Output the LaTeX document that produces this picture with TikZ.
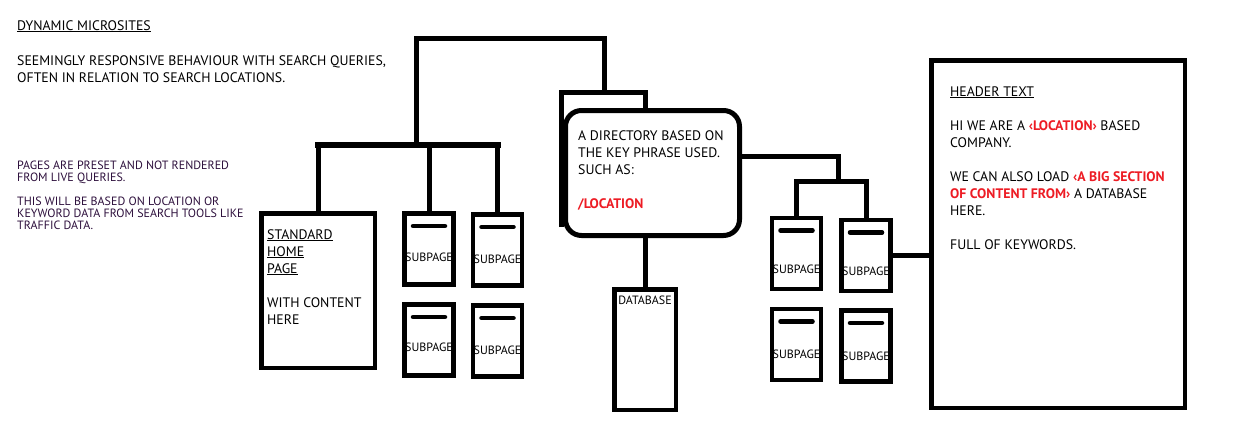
\documentclass[tikz,border=0pt]{standalone}
\usepackage{fontspec}
\setmainfont{PT Sans}
\usepackage{tikz}
\definecolor{inkred}{RGB}{237,28,36}
\definecolor{noteink}{RGB}{45,15,60}

\begin{document}
\begin{tikzpicture}[x=1pt,y=-1pt,
		page/.style={draw, line width=4.5pt, inner sep=0pt, minimum width=49pt, minimum height=71pt},
		folder/.style={draw, line width=5pt, rounded corners=16pt, inner sep=0pt, minimum width=174pt, minimum height=125pt},
		wire/.style={line width=5pt},
		bus/.style={line width=6.5pt, line cap=rect},
		slot/.style={line width=4.5pt, line cap=round},
		txt/.style={anchor=base west, align=left, inner sep=0pt, font=\fontsize{13.8}{17}\selectfont},
		small/.style={anchor=base west, align=left, inner sep=0pt, text=noteink, font=\fontsize{12}{12}\selectfont},
		tag/.style={anchor=base, inner sep=0pt, font=\fontsize{12}{12}\selectfont}]
		\useasboundingbox (0,0) rectangle (1234,434);
		\node[page, minimum width=113.5pt, minimum height=154.5pt] (home) at (318,290.5) {};
		\node[page] (s1) at (429,249) {};
		\node[page] (s2) at (497.5,250) {};
		\node[page] (s3) at (429,340) {};
		\node[page] (s4) at (497.5,341) {};
		\node[page] (s5) at (796.5,253.5) {};
		\node[page] (s6) at (866,255.5) {};
		\node[page] (s7) at (796.5,344.5) {};
		\node[page] (s8) at (866,346) {};
		\node[page, minimum width=61.5pt, minimum height=120.5pt] (db) at (645,349.5) {};
		\node[page, minimum width=253.5pt, minimum height=347.5pt] (site) at (1058,234) {};
		\node[folder] (dir) at (652.5,173) {};
		\coordinate (hub) at (416,145);
		\coordinate (tab) at (645,92);
		\coordinate (tabtop) at (604,92);
		\coordinate (rhub) at (838,181);
		\draw[wire] ([xshift=-2pt,yshift=-54pt]dir.west) |- (tab) -- (tab |- dir.north);
		\draw[wire] (hub) |- ([yshift=54pt]tabtop) -- (tabtop);
		\draw[bus] (home.north |- hub) -- (s2.north |- hub);
		\draw[wire] (home.north |- hub) -- (home.north);
		\draw[wire] (s1.north |- hub) -- (s1.north);
		\draw[wire] (s2.north |- hub) -- (s2.north);
		\draw[wire] (db.north |- dir.south) -- (db.north);
		\draw[wire] ([yshift=17pt]dir.east) -| (rhub);
		\draw[wire] (s5.north) |- (rhub) -| (s6.north);
		\draw[wire] (s6.east) -- (s6.east -| site.west);
		\draw[slot] ([xshift=-16pt,yshift=23pt]s1.center) -- ([xshift=16pt,yshift=23pt]s1.center);
		\draw[slot] ([xshift=-16pt,yshift=23pt]s2.center) -- ([xshift=16pt,yshift=23pt]s2.center);
		\draw[slot] ([xshift=-16pt,yshift=23pt]s3.center) -- ([xshift=16pt,yshift=23pt]s3.center);
		\draw[slot] ([xshift=-16pt,yshift=23pt]s4.center) -- ([xshift=16pt,yshift=23pt]s4.center);
		\draw[slot] ([xshift=-16pt,yshift=23pt]s5.center) -- ([xshift=16pt,yshift=23pt]s5.center);
		\draw[slot] ([xshift=-16pt,yshift=23pt]s6.center) -- ([xshift=16pt,yshift=23pt]s6.center);
		\draw[slot] ([xshift=-16pt,yshift=23pt]s7.center) -- ([xshift=16pt,yshift=23pt]s7.center);
		\draw[slot] ([xshift=-16pt,yshift=23pt]s8.center) -- ([xshift=16pt,yshift=23pt]s8.center);
		\node[tag] (s1t) at ([yshift=-12pt]s1.center) {SUBPAGE};
		\node[tag] (s2t) at ([yshift=-13pt]s2.center) {SUBPAGE};
		\node[tag] (s3t) at ([yshift=-11pt]s3.center) {SUBPAGE};
		\node[tag] (s4t) at ([yshift=-13pt]s4.center) {SUBPAGE};
		\node[tag] (s5t) at ([yshift=-19.5pt]s5.center) {SUBPAGE};
		\node[tag] (s6t) at ([yshift=-19.5pt]s6.center) {SUBPAGE};
		\node[tag] (s7t) at ([yshift=-13.5pt]s7.center) {SUBPAGE};
		\node[tag] (s8t) at ([yshift=-14pt]s8.center) {SUBPAGE};
		\node[tag] (dbt) at (645,304) {DATABASE};
		\node[txt] (title) at (17,30) {\underline{DYNAMIC MICROSITES}};
		\node[txt] (intro) at (17,82) {SEEMINGLY RESPONSIVE BEHAVIOUR WITH SEARCH QUERIES,\\ OFTEN IN RELATION TO SEARCH LOCATIONS.};
		\node[small] (note) at (17,229) {PAGES ARE PRESET AND NOT RENDERED\\ FROM LIVE QUERIES.\\[12pt] THIS WILL BE BASED ON LOCATION OR\\ KEYWORD DATA FROM SEARCH TOOLS LIKE\\ TRAFFIC DATA.};
		\node[txt] (homet) at (267,324) {\underline{STANDARD}\\ \underline{HOME}\\ \underline{PAGE}\\[17pt] WITH CONTENT\\ HERE};
		\node[txt] (dirt) at (578,208) {A DIRECTORY BASED ON\\ THE KEY PHRASE USED.\\ SUCH AS:\\[17pt] \textcolor{inkred}{\bfseries /LOCATION}};
		\node[txt] (sitet) at (950,249) {\underline{HEADER TEXT}\\[17pt] HI WE ARE A \textcolor{inkred}{\bfseries ‹LOCATION›} BASED\\ COMPANY.\\[17pt] WE CAN ALSO LOAD \textcolor{inkred}{\bfseries ‹A BIG SECTION}\\ \textcolor{inkred}{\bfseries OF CONTENT FROM›} A DATABASE\\ HERE.\\[17pt] FULL OF KEYWORDS.};
\end{tikzpicture}
\end{document}
